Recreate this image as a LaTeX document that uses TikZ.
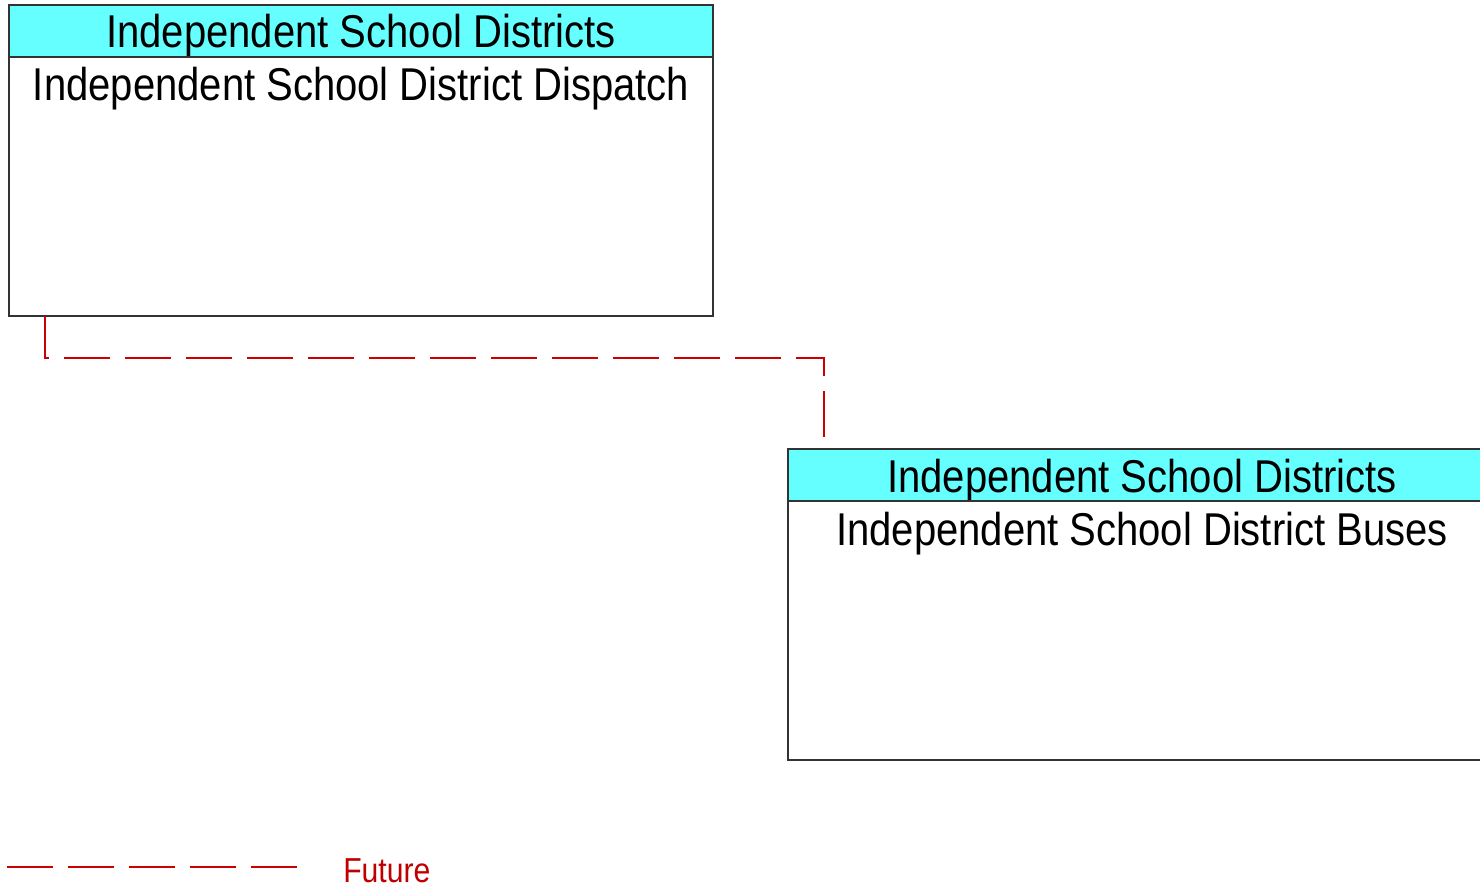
\documentclass[tikz,border=0pt]{standalone}
\usepackage{fontspec}
\setmainfont{Liberation Sans}[FakeStretch=0.87]
\usetikzlibrary{positioning}
\definecolor{isdCyan}{HTML}{66FFFF}
\definecolor{isdRed}{HTML}{CC0000}
\definecolor{isdFuture}{HTML}{C00000}
\definecolor{isdEdge}{HTML}{333333}
\tikzset{
  isd header/.style={draw=isdEdge, fill=isdCyan, line width=1pt, minimum width=528pt, minimum height=39pt, inner sep=0pt, outer sep=0pt, anchor=north west, font=\fontsize{34.5pt}{36pt}\selectfont, text height=28pt, text depth=2.5pt},
  isd body/.style={draw=isdEdge, line width=1pt, minimum width=528pt, minimum height=194.25pt, inner sep=0pt, outer sep=0pt, anchor=north},
  isd label/.style={font=\fontsize{34.5pt}{36pt}\selectfont, text=black, anchor=base},
  isd future/.style={draw=isdRed, line width=0.8pt, dash pattern=on 34.5pt off 11.25pt},
  isd legend/.style={font=\fontsize{26pt}{28pt}\selectfont, text=isdFuture, inner sep=0pt, anchor=base west},
}
\begin{document}
\begin{tikzpicture}[x=0.75pt,y=-0.75pt]
  \useasboundingbox (0,0) rectangle (1480,887);
  \clip (0,0) rectangle (1480,887);
  % dispatch centre
  \node[isd header] (dispatchhdr) at (9,5) {Independent School Districts};
  \node[isd body] (dispatchbody) at (dispatchhdr.south) {};
  \node[isd label] (dispatchtxt) at ([yshift=-33pt]dispatchbody.north) {Independent School District Dispatch};
  % buses (runs off the right edge)
  \node[isd header, minimum width=531pt] (buseshdr) at (788,449) {Independent School Districts};
  \node[isd body, minimum width=531pt] (busesbody) at (buseshdr.south) {};
  \node[isd label] (busestxt) at ([yshift=-33pt]busesbody.north) {Independent School District Buses};
  % future flow
  \draw[isd future] ([shift={(36,0)}]dispatchbody.south west) -- ++(0,42) -| ([shift={(36,-8)}]buseshdr.north west);
  % legend
  \coordinate (futA) at (7,867);
  \coordinate (futB) at (299,867);
  \draw[isd future] (futA) -- (futB);
  \node[isd legend] (futlabel) at (343,882) {Future};
\end{tikzpicture}
\end{document}
